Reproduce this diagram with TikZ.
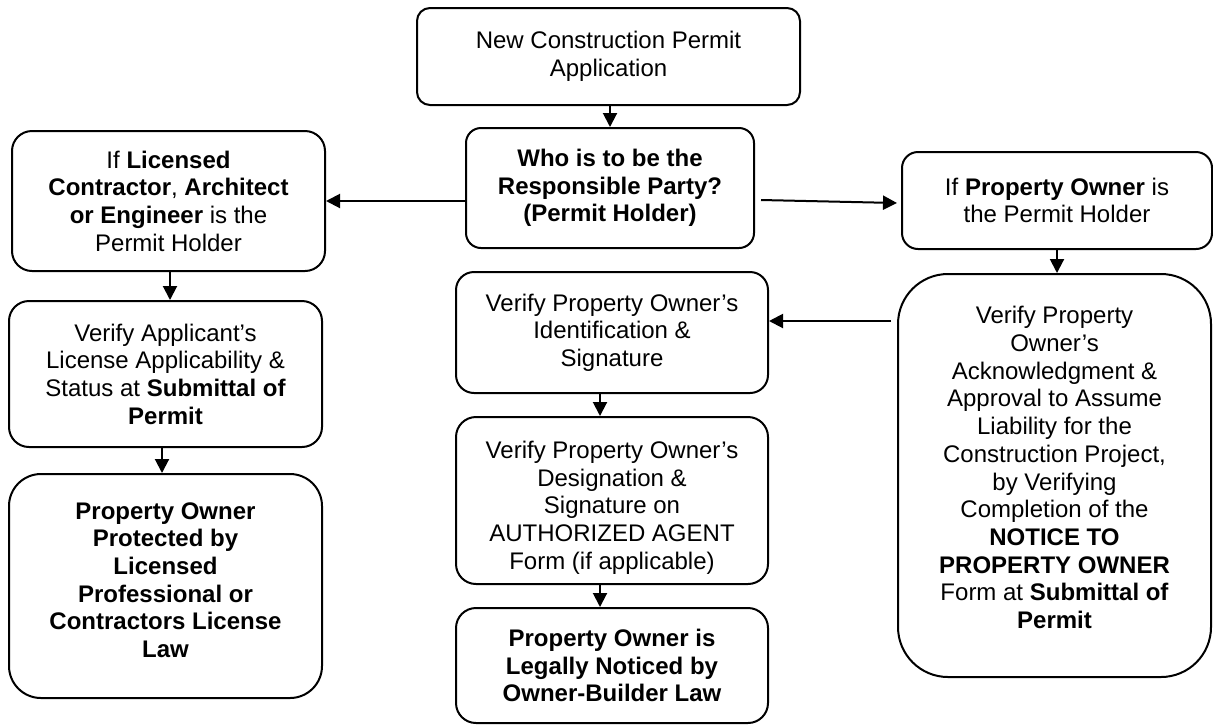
\documentclass[tikz,border=0pt]{standalone}
\usepackage{fontspec}
\setmainfont{Liberation Sans}
\usetikzlibrary{arrows.meta}
\tikzset{
  box/.style={draw, line width=1pt, rounded corners=#1, align=center, inner sep=0pt,
    font=\fontsize{12}{13.85}\selectfont},
  box/.default=8pt,
  arr/.style={-{Triangle[length=7pt,width=7pt]}, line width=1pt},
}
\newcommand{\topspace}[1]{\rule{0pt}{#1}}
\newcommand{\botspace}[1]{\rule[-#1]{0pt}{#1}}
\begin{document}
\begin{tikzpicture}[x=0.5pt,y=-0.5pt]
\useasboundingbox (0,0) rectangle (1213,724);
\node[box=6.5pt, minimum width=191.5pt, minimum height=48.5pt] (top) at (608.5,56.5)
  {New Construction Permit\\Application};
\node[box=7.5pt, minimum width=144pt, minimum height=60pt, font=\fontsize{12}{13.85}\selectfont\bfseries] (mid) at (610,188)
  {Who is to be the\\Responsible Party?\\(Permit Holder)};
\node[box=10pt, minimum width=156.5pt, minimum height=70pt] (left1) at (168.5,201)
  {If \textbf{Licensed}\\\textbf{Contractor}, \textbf{Architect}\\\textbf{or Engineer} is the\\Permit Holder};
\node[box=8pt, minimum width=155pt, minimum height=48.5pt] (right1) at (1057,200.5)
  {If \textbf{Property Owner} is\\the Permit Holder};
\node[box=10pt, minimum width=156.5pt, minimum height=73pt] (left2) at (165.5,374)
  {Verify Applicant’s\\License Applicability \&\\Status at \textbf{Submittal of}\\\textbf{Permit}};
\node[box=16pt, minimum width=156.5pt, minimum height=112pt, font=\fontsize{12}{13.85}\selectfont\bfseries] (left3) at (165.5,586)
  {Property Owner\\Protected by\\Licensed\\Professional or\\Contractors License\\Law\botspace{6pt}};
\node[box=9pt, minimum width=156pt, minimum height=60.5pt] (mid2) at (612,332.5)
  {Verify Property Owner’s\\Identification \&\\Signature};
\node[box=10pt, minimum width=156pt, minimum height=83.5pt] (mid3) at (612,500.5)
  {\topspace{15.8pt}Verify Property Owner’s\\Designation \&\\Signature on\\AUTHORIZED AGENT\\Form (if applicable)};
\node[box=10pt, minimum width=156pt, minimum height=57.5pt, font=\fontsize{12}{13.85}\selectfont\bfseries] (mid4) at (612,665.5)
  {Property Owner is\\Legally Noticed by\\Owner-Builder Law};
\node[box=25pt, minimum width=156.5pt, minimum height=201.5pt] (right2) at (1054.5,475.5)
  {Verify Property\\Owner’s\\Acknowledgment \&\\Approval to Assume\\Liability for the\\Construction Project,\\by Verifying\\Completion of the\\\textbf{NOTICE TO}\\\textbf{PROPERTY OWNER}\\Form at \textbf{Submittal of}\\\textbf{Permit}\botspace{8pt}};
% connectors
\draw[arr] ([xshift=0.75pt]top.south) -- ([xshift=0.75pt]top.south |- mid.north);
\draw[arr] (mid.west |- left1.east) -- (left1.east);
\draw[arr] ([shift={(6,12)}]mid.east) -- ([shift={(-4,2.5)}]right1.west);
\draw[arr] ([xshift=0.75pt]left1.south) -- ([xshift=0.75pt]left1.south |- left2.north);
\draw[arr] ([xshift=-1.75pt]left2.south) -- ([xshift=-1.75pt]left2.south |- left3.north);
\draw[arr] (right1.south) -- (right1.south |- right2.north);
\draw[arr] ([xshift=-3pt,yshift=5.75pt]right2.west |- mid2.east) -- ([yshift=5.75pt]mid2.east);
\draw[arr] ([xshift=-6pt]mid2.south) -- ([xshift=-6pt]mid3.north);
\draw[arr] ([xshift=-6pt]mid3.south) -- ([xshift=-6pt]mid4.north);
\end{tikzpicture}
\end{document}
